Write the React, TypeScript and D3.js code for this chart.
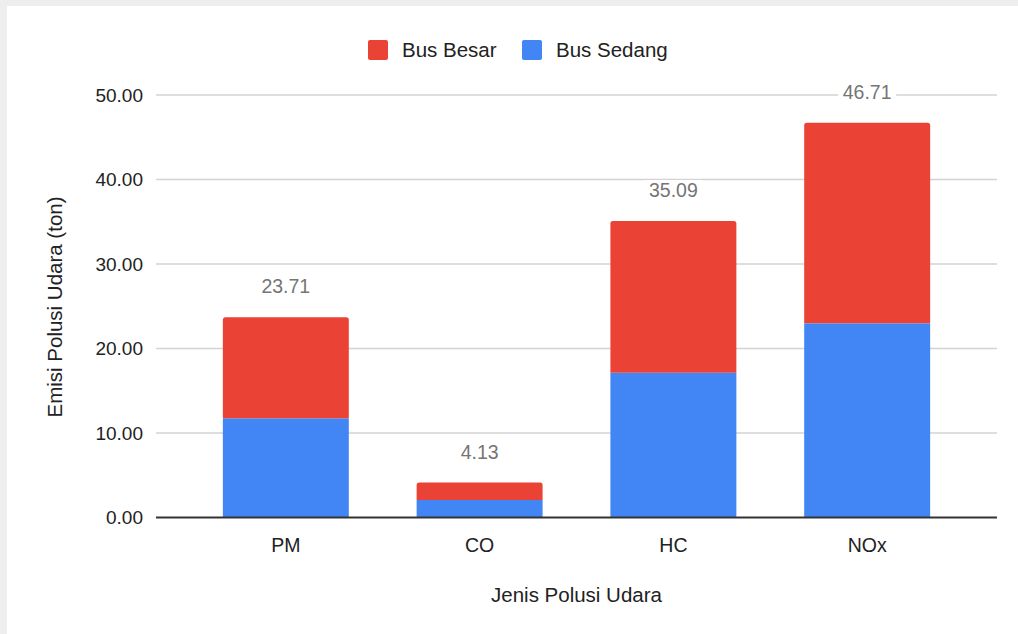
import React from 'react';
import * as d3 from 'd3';

const categories = ['PM', 'CO', 'HC', 'NOx'];
const busSedang = [11.74, 2.07, 17.13, 22.98];
const busBesar = [11.97, 2.06, 17.96, 23.73];
const totals = [23.71, 4.13, 35.09, 46.71];
const yTicks = [0, 10, 20, 30, 40, 50];
const seriesNames = ['Bus Besar', 'Bus Sedang'];
const seriesColors = ['#ea4335', '#4285f4'];

const W = 1018;
const H = 634;
const FONT = '"Liberation Sans", Arial, sans-serif';

// path for a rect with only the top corners rounded
const topRounded = (x: number, y: number, w: number, h: number, r: number) =>
  `M${x},${y + h}V${y + r}Q${x},${y} ${x + r},${y}H${x + w - r}Q${x + w},${y} ${x + w},${y + r}V${y + h}Z`;

export default function App() {
  const x = d3.scaleBand<string>()
    .domain(categories)
    .range([156, 997])
    .paddingInner(0.35)
    .paddingOuter(0.345);
  const y = d3.scaleLinear().domain([0, 50]).range([517.5, 95]);
  const fmt = d3.format('.2f');

  const rows = categories.map((c, i) => ({ cat: c, sedang: busSedang[i], besar: busBesar[i] }));
  const stacked = d3.stack<any>().keys(['sedang', 'besar'])(rows);

  return (
    <svg width={W} height={H} style={{ position: 'fixed', left: 0, top: 0 }}>
      <rect x={0} y={0} width={W} height={H} fill="#eeeeee" />
      <rect x={7} y={6} width={W} height={H} fill="#ffffff" />

      {/* legend */}
      <g fontFamily={FONT} fontSize={20.5} fill="#222">
        <rect x={368} y={40} width={20} height={20} rx={2} fill={seriesColors[0]} />
        <text x={402} y={57}>{seriesNames[0]}</text>
        <rect x={522} y={40} width={20} height={20} rx={2} fill={seriesColors[1]} />
        <text x={556} y={57}>{seriesNames[1]}</text>
      </g>

      {/* grid + y ticks */}
      {yTicks.map(t => (
        <g key={t}>
          {t !== 0 && <line x1={156} x2={997} y1={y(t)} y2={y(t)} stroke="#d3d3d3" strokeWidth={1.3} />}
          <text x={143} y={y(t) + 6.5} textAnchor="end" fontFamily={FONT} fontSize={19} fill="#222">{fmt(t)}</text>
        </g>
      ))}

      {/* bars */}
      {stacked.map((s, si) => (
        <g key={s.key} fill={si === 0 ? seriesColors[1] : seriesColors[0]}>
          {s.map((d, i) => {
            const bx = x(categories[i])!;
            const bw = x.bandwidth();
            const y0 = y(d[0]);
            const y1 = y(d[1]);
            return si === 1
              ? <path key={i} d={topRounded(bx, y1, bw, y0 - y1, 2.5)} />
              : <rect key={i} x={bx} y={y1} width={bw} height={y0 - y1} />;
          })}
        </g>
      ))}

      {/* baseline */}
      <line x1={156} x2={997} y1={y(0)} y2={y(0)} stroke="#333" strokeWidth={2} />

      {/* total labels */}
      {totals.map((t, i) => {
        const cx = x(categories[i])! + x.bandwidth() / 2;
        const ty = y(t) - 24;
        return (
          <g key={i}>
            <rect x={cx - 29} y={ty - 17} width={58} height={21} fill="#fff" />
            <text x={cx} y={ty} textAnchor="middle" fontFamily={FONT} fontSize={19.5} fill="#757575">{fmt(t)}</text>
          </g>
        );
      })}

      {/* x ticks */}
      {categories.map(c => (
        <text key={c} x={x(c)! + x.bandwidth() / 2} y={552} textAnchor="middle" fontFamily={FONT} fontSize={19.5} fill="#222">{c}</text>
      ))}

      {/* axis titles */}
      <text x={576.5} y={602} textAnchor="middle" fontFamily={FONT} fontSize={20.5} fill="#222">Jenis Polusi Udara</text>
      <text transform={`translate(62,307) rotate(-90)`} textAnchor="middle" fontFamily={FONT} fontSize={20.5} fill="#222">Emisi Polusi Udara (ton)</text>
    </svg>
  );
}
